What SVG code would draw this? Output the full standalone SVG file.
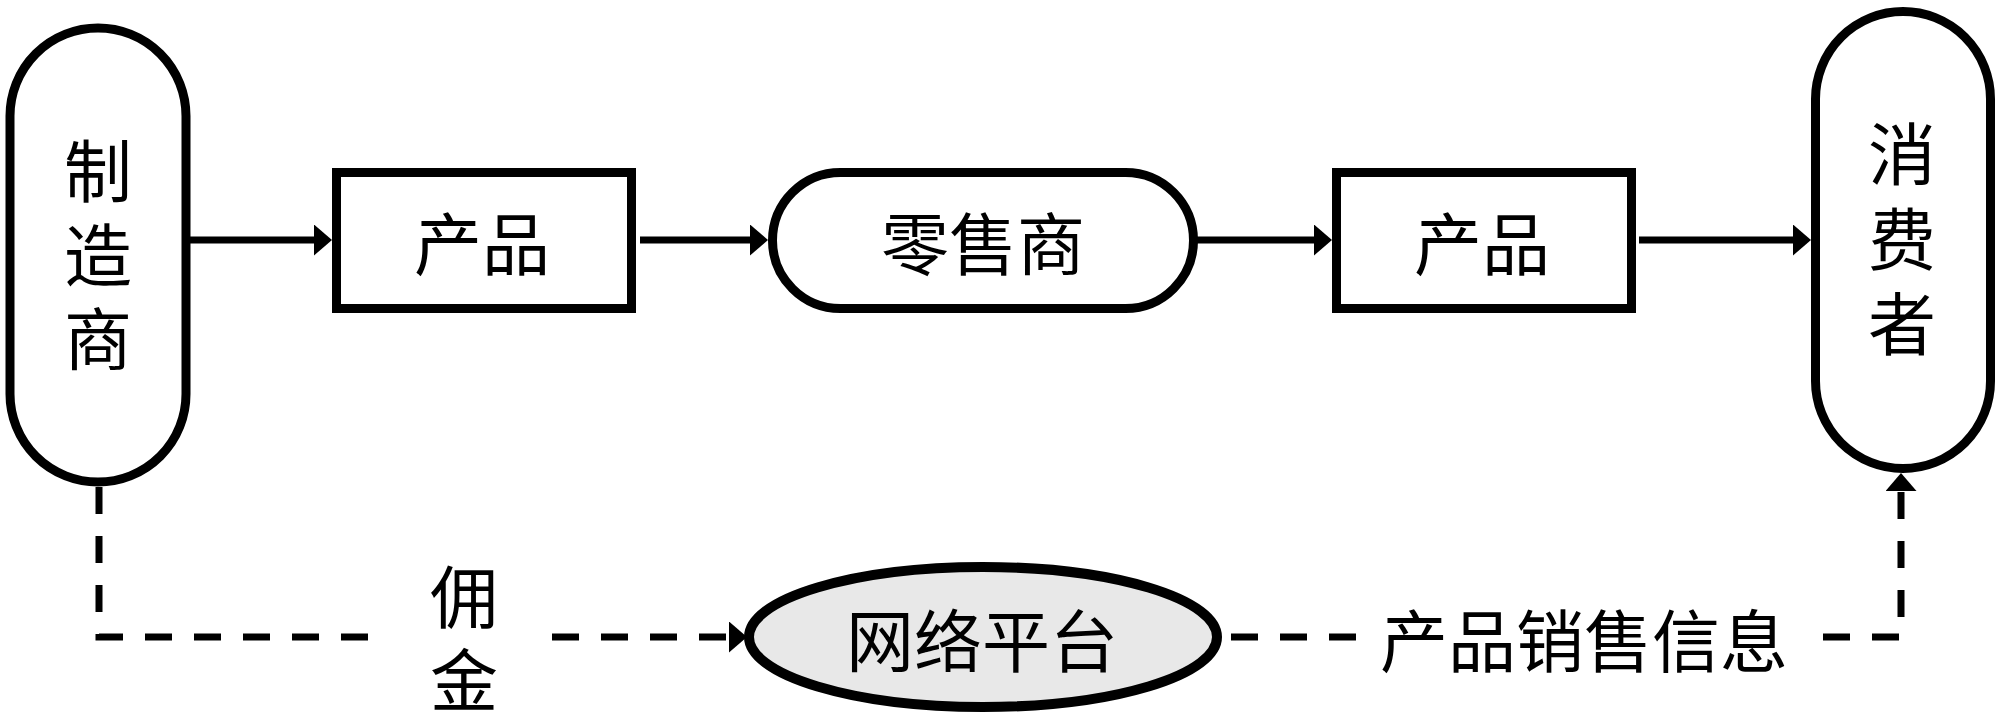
<svg xmlns="http://www.w3.org/2000/svg" width="2000" height="719" viewBox="0 0 2000 719">
<style>
.node{fill:#ffffff;stroke:#000000;stroke-width:9}
.plat{fill:#e8e8e8;stroke:#000000;stroke-width:10}
.lbl{font-family:"Noto Sans CJK SC","Noto Sans CJK TC",sans-serif;font-size:68px;fill:#000000;text-anchor:middle;dominant-baseline:central}
.vt{font-family:"Noto Sans CJK SC","Noto Sans CJK TC",sans-serif;font-size:68px;fill:#000000;text-anchor:middle;writing-mode:vertical-rl}
.solid{fill:none;stroke:#000000;stroke-width:7;marker-end:url(#ah)}
.dash{fill:none;stroke:#000000;stroke-width:7;stroke-dasharray:27 22}
.dasharrow{fill:none;stroke:#000000;stroke-width:7;stroke-dasharray:27 22;marker-end:url(#ah)}
</style>
<defs>
<marker id="ah" viewBox="0 0 18 31" refX="0" refY="15.5" markerWidth="18" markerHeight="31" markerUnits="userSpaceOnUse" orient="auto">
<path d="M0,0 L18,15.5 L0,31 Z" fill="#000000"/>
</marker>
</defs>
<rect width="2000" height="719" fill="#ffffff"/>
<g id="connectors">
<path class="solid" d="M190,240 H314"/>
<path class="solid" d="M640,240 H750"/>
<path class="solid" d="M1197,240 H1314"/>
<path class="solid" d="M1639,240 H1793"/>
<path class="dash" d="M99,487 V637 H370"/>
<path class="dasharrow" d="M552,637 H729"/>
<path class="dash" d="M1231,637 H1360"/>
<path class="dasharrow" d="M1823,637 H1901 V491"/>
</g>
<g id="manufacturer">
<rect class="node" x="10" y="28" width="176" height="454" rx="88" ry="88"/>
<text class="vt" x="98" y="263" letter-spacing="16">制造商</text>
</g>
<g id="product1">
<rect class="node" x="336.5" y="172.5" width="295" height="136"/>
<text class="lbl" x="482" y="240">产品</text>
</g>
<g id="retailer">
<rect class="node" x="772.5" y="172.5" width="421" height="136" rx="68" ry="68"/>
<text class="lbl" x="983" y="240">零售商</text>
</g>
<g id="product2">
<rect class="node" x="1336.5" y="172.5" width="295" height="136"/>
<text class="lbl" x="1482" y="240">产品</text>
</g>
<g id="consumer">
<rect class="node" x="1815.5" y="11.5" width="175" height="457" rx="87.5" ry="87.5"/>
<text class="vt" x="1902" y="248" letter-spacing="17">消费者</text>
</g>
<g id="platform">
<ellipse class="plat" cx="983" cy="637" rx="234" ry="70"/>
<text class="lbl" x="982" y="637">网络平台</text>
</g>
<g id="label-commission">
<text class="vt" x="464" y="563" font-size="66" text-anchor="start" style="text-anchor:start">佣<tspan dy="15">金</tspan></text>
</g>
<g id="label-salesinfo">
<text class="lbl" x="1584" y="637">产品销售信息</text>
</g>
</svg>
